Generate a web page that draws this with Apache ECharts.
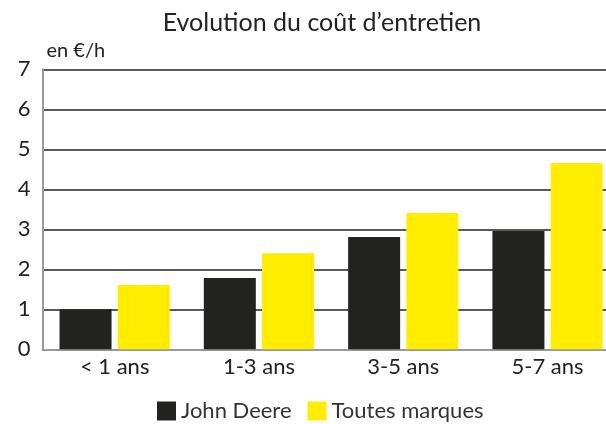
<!DOCTYPE html>
<html>
<head>
<meta charset="utf-8">
<script src="https://cdn.jsdelivr.net/npm/echarts@6/dist/echarts.min.js"></script>
<style>html,body{margin:0;padding:0;background:#fff;overflow:hidden;}#c{width:620px;height:424px;}</style>
</head>
<body>
<div id="c"></div>
<script>
const categories = ['< 1 ans', '1-3 ans', '3-5 ans', '5-7 ans'];
const johnDeere = [1.0, 1.78, 2.81, 2.96];
const toutesMarques = [1.61, 2.4, 3.41, 4.66];
const seriesNames = ['John Deere', 'Toutes marques'];
const yTicks = { min: 0, max: 7, interval: 1 };
const FONT = 'Lato, "Open Sans", sans-serif';
const chart = echarts.init(document.getElementById('c'), null, { renderer: 'canvas' });
chart.setOption({
  animation: false,
  textStyle: { fontFamily: FONT },
  title: {
    text: 'Evolution du coût d\u2019entretien',
    left: 322, top: 10, textAlign: 'center', padding: 0,
    textStyle: { fontFamily: FONT, fontSize: 25, fontWeight: 'normal', color: '#222' }
  },
  legend: {
    data: seriesNames,
    left: 157, top: 400, width: 440, padding: 0, orient: 'horizontal',
    itemWidth: 19, itemHeight: 19, itemGap: 16,
    icon: 'rect',
    textStyle: { fontFamily: FONT, fontSize: 22, color: '#333', padding: [0, 0, 0, 0] }
  },
  grid: { left: 42.5, right: 0.3, top: 69.3, bottom: 74.7, containLabel: false },
  xAxis: {
    type: 'category', data: categories,
    axisLine: { show: true, lineStyle: { color: '#999', width: 2 } },
    axisTick: { show: false },
    axisLabel: { fontFamily: FONT, fontSize: 22, color: '#222', margin: 7 },
    splitLine: { show: false }
  },
  yAxis: {
    type: 'value', min: yTicks.min, max: yTicks.max, interval: yTicks.interval,
    name: 'en €/h', nameLocation: 'end', nameGap: 9,
    nameTextStyle: { fontFamily: FONT, fontSize: 20, color: '#222', align: 'left', padding: [0, 0, 0, 4] },
    axisLine: { show: true, lineStyle: { color: '#999', width: 2 } },
    axisTick: { show: false },
    axisLabel: { fontFamily: FONT, fontSize: 22, color: '#222', margin: 12 },
    splitLine: { show: true, lineStyle: { color: '#222', width: 1.5 } }
  },
  series: [
    { name: seriesNames[0], type: 'bar', data: johnDeere, barWidth: 52, barGap: '12%',
      itemStyle: { color: '#222220' } },
    { name: seriesNames[1], type: 'bar', data: toutesMarques, barWidth: 52,
      itemStyle: { color: '#FFED00' } }
  ]
});
</script>
</body>
</html>
